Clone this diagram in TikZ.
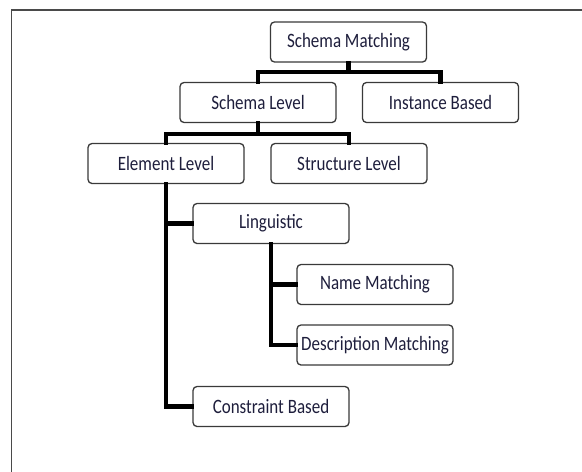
\documentclass[tikz,border=0pt]{standalone}
\usepackage{fontspec}
\setmainfont{Carlito}
\definecolor{boxline}{HTML}{3A3A3A}
\definecolor{txt}{HTML}{1E1E3C}
\definecolor{frame}{HTML}{4A4A4A}
\newcommand{\tallt}[1]{\scalebox{1}[1.2]{#1}}
\begin{document}
\begin{tikzpicture}[x=1pt,y=-1pt,
  box/.style={draw=boxline, line width=1.3pt, rounded corners=4pt, fill=white,
    minimum width=156pt, minimum height=40pt, inner sep=0pt, text=txt,
    font=\fontsize{17}{19}\selectfont},
  conn/.style={draw=black, line width=4.2pt, line join=miter, line cap=rect}]
\useasboundingbox (0,0) rectangle (582,472);
\fill[white] (0,0) rectangle (582,472);
\draw[frame, line width=1.3pt] (11.5,472) -- (11.5,10) -- (582,10);
\coordinate (b1) at (0,72);
\coordinate (b2) at (0,134);
\node[box] (sm) at (348.5,42) {\tallt{Schema Matching}};
\node[box] (sl) at (258,102.5) {\tallt{Schema Level}};
\node[box] (ib) at (440.5,102.5) {\tallt{Instance Based}};
\node[box] (el) at (166,163.5) {\tallt{Element Level}};
\node[box] (stl) at (349,163.5) {\tallt{Structure Level}};
\node[box] (li) at (271,223.5) {\tallt{Linguistic}};
\node[box] (nm) at (375,284.5) {\tallt{Name Matching}};
\node[box] (dm) at (375,345) {\tallt{Description Matching}};
\node[box] (cb) at (271,406.5) {\tallt{Constraint Based}};
\draw[conn] (sm.south) -- (sm.south |- b1);
\draw[conn] (sl.north) -- (sl.north |- b1) -- (ib.north |- b1) -- (ib.north);
\draw[conn] (sl.south) -- (sl.south |- b2);
\draw[conn] (el.north) -- (el.north |- b2) -- (stl.north |- b2) -- (stl.north);
\draw[conn] (el.south) -- (el.south |- cb.west) -- (cb.west);
\draw[conn] (el.south |- li.west) -- (li.west);
\draw[conn] (li.south) -- (li.south |- dm.west) -- (dm.west);
\draw[conn] (li.south |- nm.west) -- (nm.west);
\end{tikzpicture}
\end{document}
